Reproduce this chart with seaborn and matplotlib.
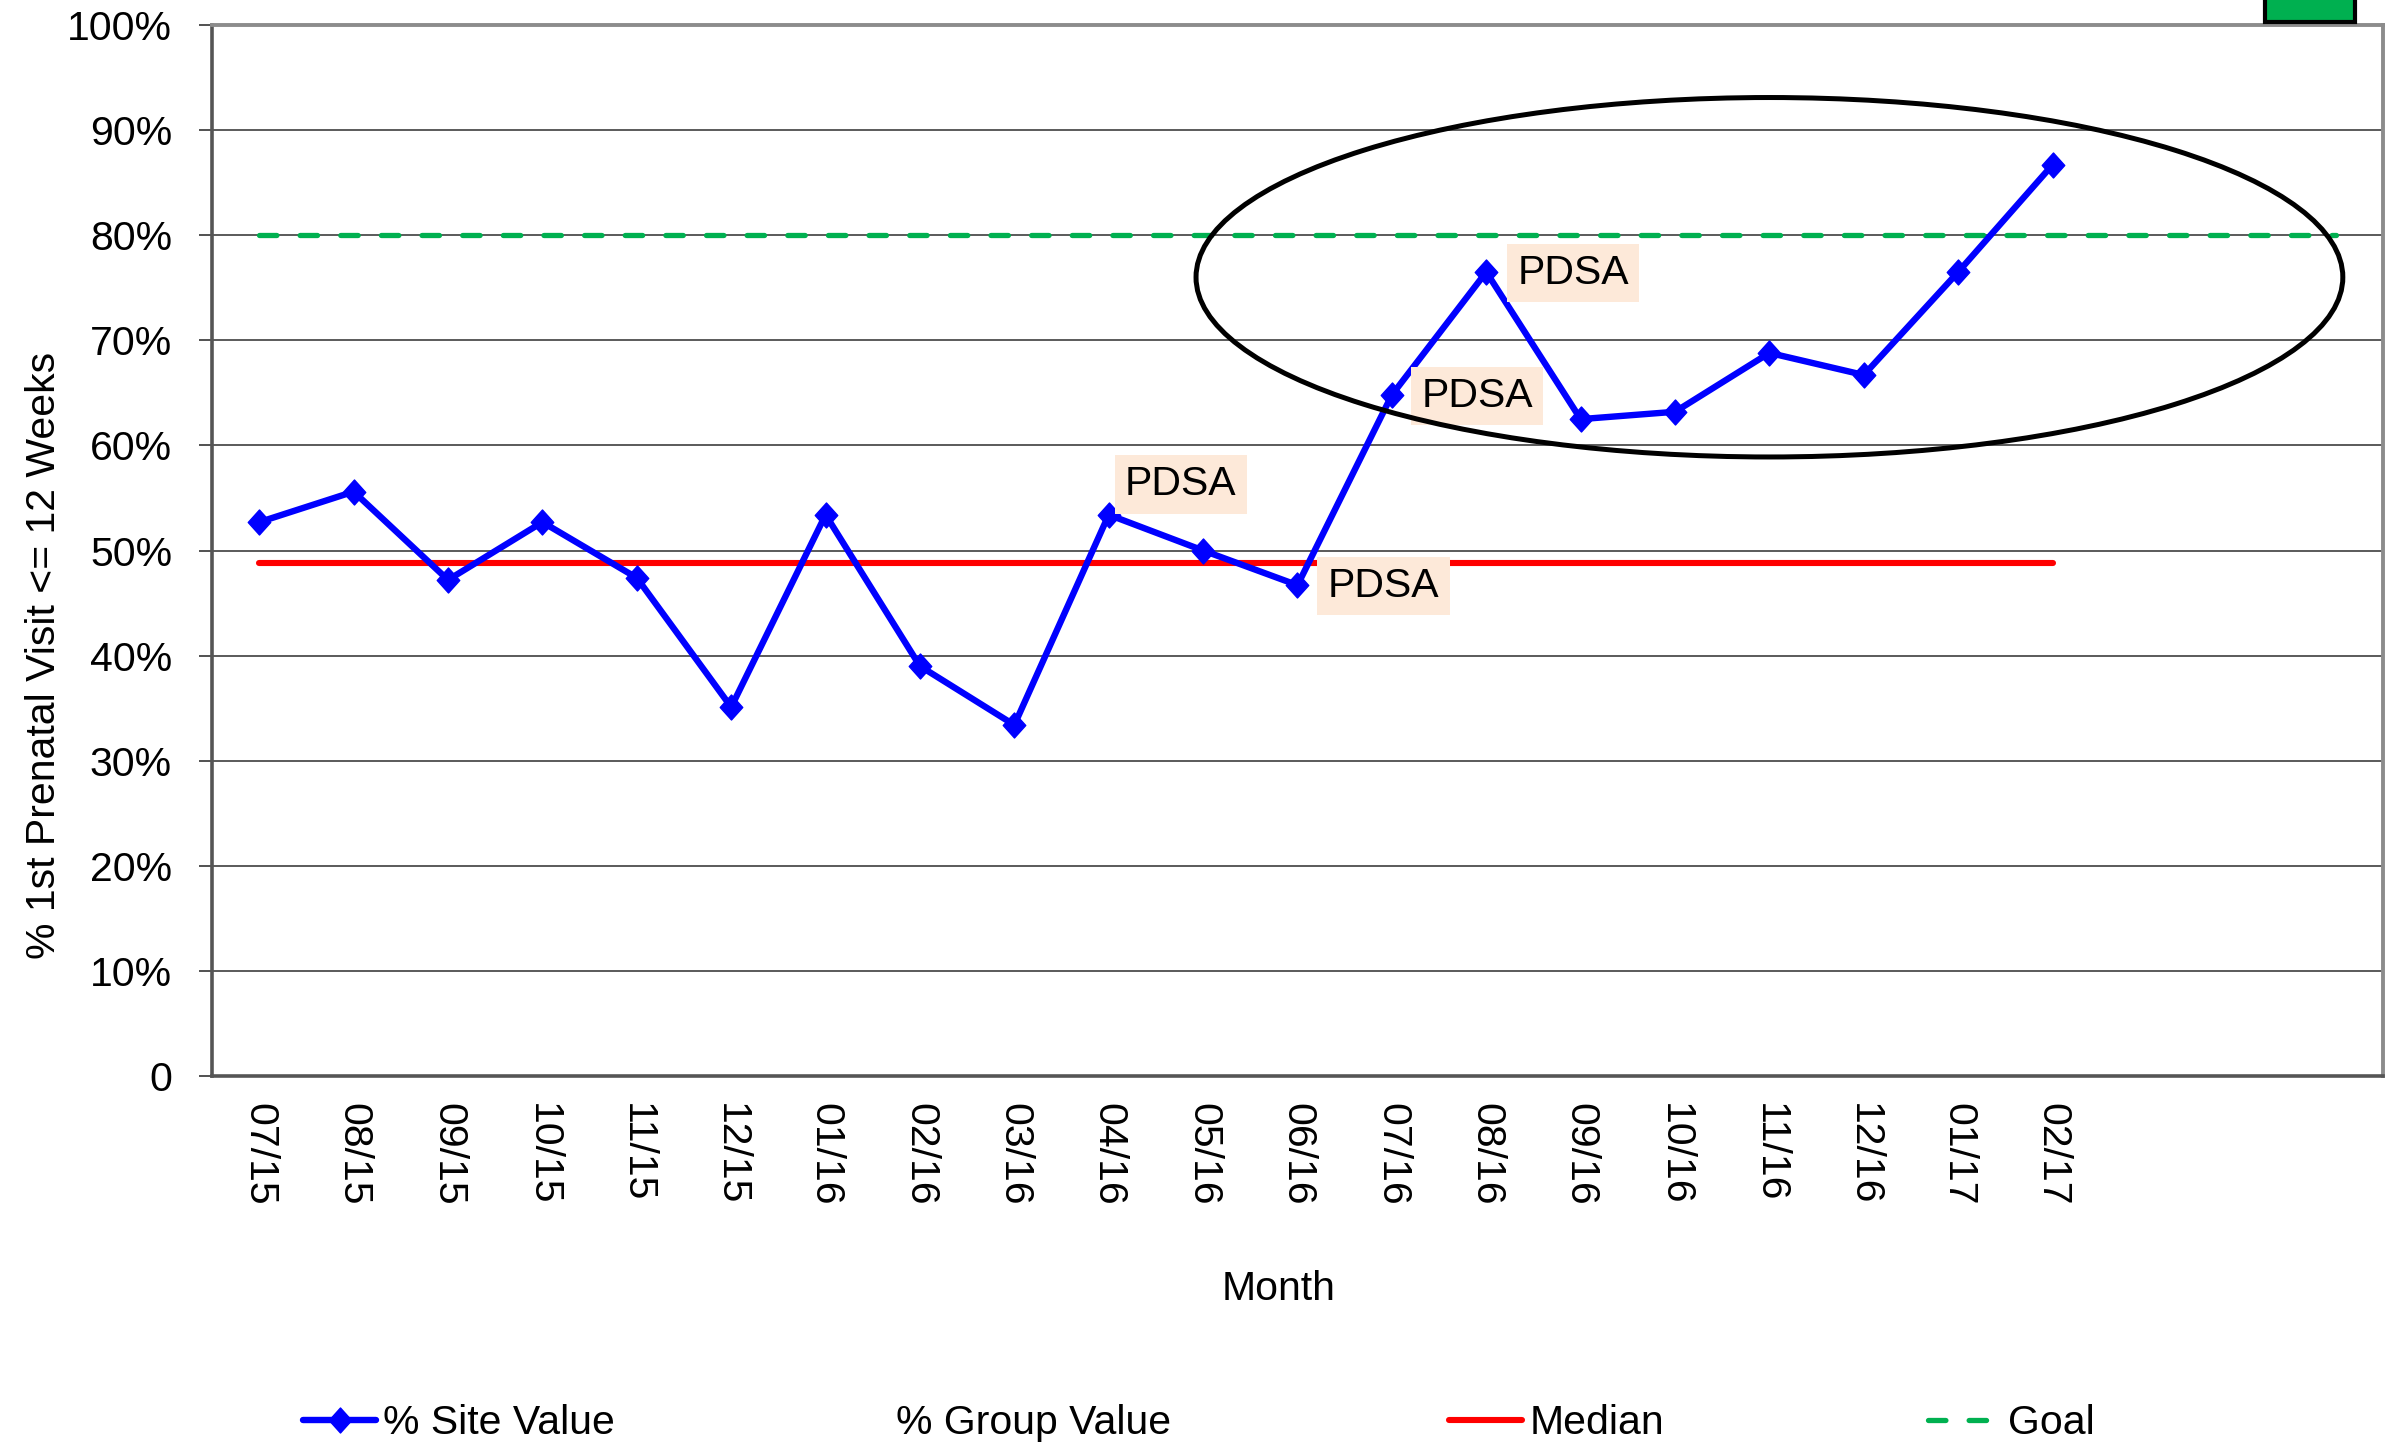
import numpy as np
import pandas as pd
import matplotlib
matplotlib.use("Agg")
import matplotlib.pyplot as plt
import seaborn as sns
from matplotlib.lines import Line2D
from matplotlib.patches import Ellipse, Rectangle
from matplotlib.path import Path

# ---------------- data ----------------
months = ["07/15", "08/15", "09/15", "10/15", "11/15", "12/15", "01/16", "02/16",
          "03/16", "04/16", "05/16", "06/16", "07/16", "08/16", "09/16", "10/16",
          "11/16", "12/16", "01/17", "02/17"]
site_values = [52.7, 55.6, 47.2, 52.7, 47.4, 35.1, 53.4, 39.0, 33.4, 53.4,
               50.0, 46.7, 64.8, 76.5, 62.5, 63.2, 68.8, 66.7, 76.5, 86.7]
median_value = 48.8
goal_value = 80.0
n_slots = 23  # category slots on the x axis (3 empty at the end)
y_ticks = [0, 10, 20, 30, 40, 50, 60, 70, 80, 90, 100]
y_tick_labels = ["0", "10%", "20%", "30%", "40%", "50%", "60%", "70%", "80%", "90%", "100%"]
pdsa_months = ["04/16", "06/16", "07/16", "08/16"]
legend_labels = ["% Site Value", "% Group Value", "Median", "Goal"]

# ---------------- style ----------------
sns.set_style("white")
plt.rcParams["font.family"] = ["Liberation Sans", "DejaVu Sans"]
for key in ["text.color", "axes.labelcolor", "xtick.labelcolor", "ytick.labelcolor"]:
    plt.rcParams[key] = "black"
FS = 29.5

fig = plt.figure(figsize=(23.99, 14.47), dpi=100)
ax = fig.add_axes([0.0884, 0.25639, 0.9049, 0.72633])

idx = np.arange(len(months))
df = pd.DataFrame({"idx": idx, "month": months, "site": site_values})

diamond = Path([(0, 1), (0.9, 0), (0, -1), (-0.9, 0), (0, 1)],
               [Path.MOVETO, Path.LINETO, Path.LINETO, Path.LINETO, Path.CLOSEPOLY])

BLUE = "#0000FF"
RED = "#FF0000"
GREEN = "#00B050"
SITE_LW = 4.6
MEDIAN_LW = 4.4
GOAL_LW = 3.8
MS = 18.0
GOAL_LS = (0, (3.3, 4.4))

sns.lineplot(data=df, x="idx", y="site", ax=ax, color=BLUE, legend=False, zorder=4)
site_line = ax.lines[-1]
site_line.set_linewidth(SITE_LW)
site_line.set_marker(diamond)
site_line.set_markersize(MS)
site_line.set_markerfacecolor(BLUE)
site_line.set_markeredgecolor(BLUE)
site_line.set_markeredgewidth(1.0)

ax.plot([idx[0], idx[-1]], [median_value, median_value], color=RED, lw=MEDIAN_LW, zorder=3)
ax.plot([0, n_slots - 1], [goal_value, goal_value], color=GREEN, lw=GOAL_LW,
        linestyle=GOAL_LS, dash_capstyle="round", zorder=3)

# PDSA annotations (x offset relative to month slot, y position)
pdsa_layout = {"04/16": (0.17, 56.3), "06/16": (0.32, 46.6),
               "07/16": (0.31, 64.7), "08/16": (0.33, 76.4)}
for m in pdsa_months:
    dx, yy = pdsa_layout[m]
    ax.text(months.index(m) + dx, yy, "PDSA", fontsize=FS, ha="left", va="center",
            bbox=dict(boxstyle="square,pad=0.25", fc="#FDE9D9", ec="none"), zorder=5)

# ellipse around the recent improvement
ax.add_patch(Ellipse((16.0, 76.0), 12.15, 34.2, fill=False, ec="black", lw=3.6, zorder=6))

# axes
ax.set_xlim(-0.5, n_slots - 0.5)
ax.set_ylim(0, 100)
ax.set_yticks(y_ticks)
ax.set_yticklabels(y_tick_labels, fontsize=FS)
ax.set_xticks(np.arange(-0.5, n_slots, 1.0))
ax.set_xticklabels([])
ax.set_xticks(idx, minor=True)
ax.set_xticklabels(months, minor=True, rotation=270, fontsize=FS)
ax.tick_params(axis="x", which="major", length=8.6, width=1.2, color="#444444", direction="out")
ax.tick_params(axis="x", which="minor", length=0, pad=19.4, labelsize=FS)
ax.tick_params(axis="y", which="major", length=9.4, width=1.2, color="#333333", pad=19.4,
               direction="out", left=True)
ax.yaxis.grid(True, color="#4d4d4d", lw=1.3)
ax.xaxis.grid(False)
ax.set_axisbelow(True)

for side in ["left", "bottom"]:
    ax.spines[side].set_color("#555555")
    ax.spines[side].set_linewidth(2.6)
for side in ["top", "right"]:
    ax.spines[side].set_color("#8C8C8C")
    ax.spines[side].set_linewidth(2.8)

ax.set_ylabel("% 1st Prenatal Visit <= 12 Weeks", fontsize=FS)
ax.yaxis.set_label_coords(-0.0774, 0.40)
ax.yaxis.label.set_va("center")
ax.set_xlabel("Month", fontsize=FS)
ax.xaxis.set_label_coords(0.4915, -0.2027)
ax.xaxis.label.set_va("center")

# legend: four entries spread along the bottom
handles = [
    Line2D([], [], color=BLUE, lw=SITE_LW, marker=diamond, markersize=MS,
           markeredgecolor=BLUE, markerfacecolor=BLUE),
    Line2D([], [], linestyle="none"),
    Line2D([], [], color=RED, lw=MEDIAN_LW),
    Line2D([], [], color=GREEN, lw=GOAL_LW, linestyle=GOAL_LS, dash_capstyle="round"),
]
legend_x = [303, 816, 1449, 1928]
for h, lab, xp in zip(handles, legend_labels, legend_x):
    fig.legend(handles=[h], labels=[lab], loc="center left",
               bbox_to_anchor=(xp / 2399, 1 - 1423 / 1447), frameon=False,
               borderpad=0, borderaxespad=0, handlelength=1.79, handletextpad=0.17,
               fontsize=FS)

# green status box at top right
fig.add_artist(Rectangle((2265 / 2399, 1 - 22 / 1447), 90 / 2399, 0.05,
                         transform=fig.transFigure, fc=GREEN, ec="black", lw=3,
                         clip_on=False))

fig.savefig("out.png", dpi=100)
